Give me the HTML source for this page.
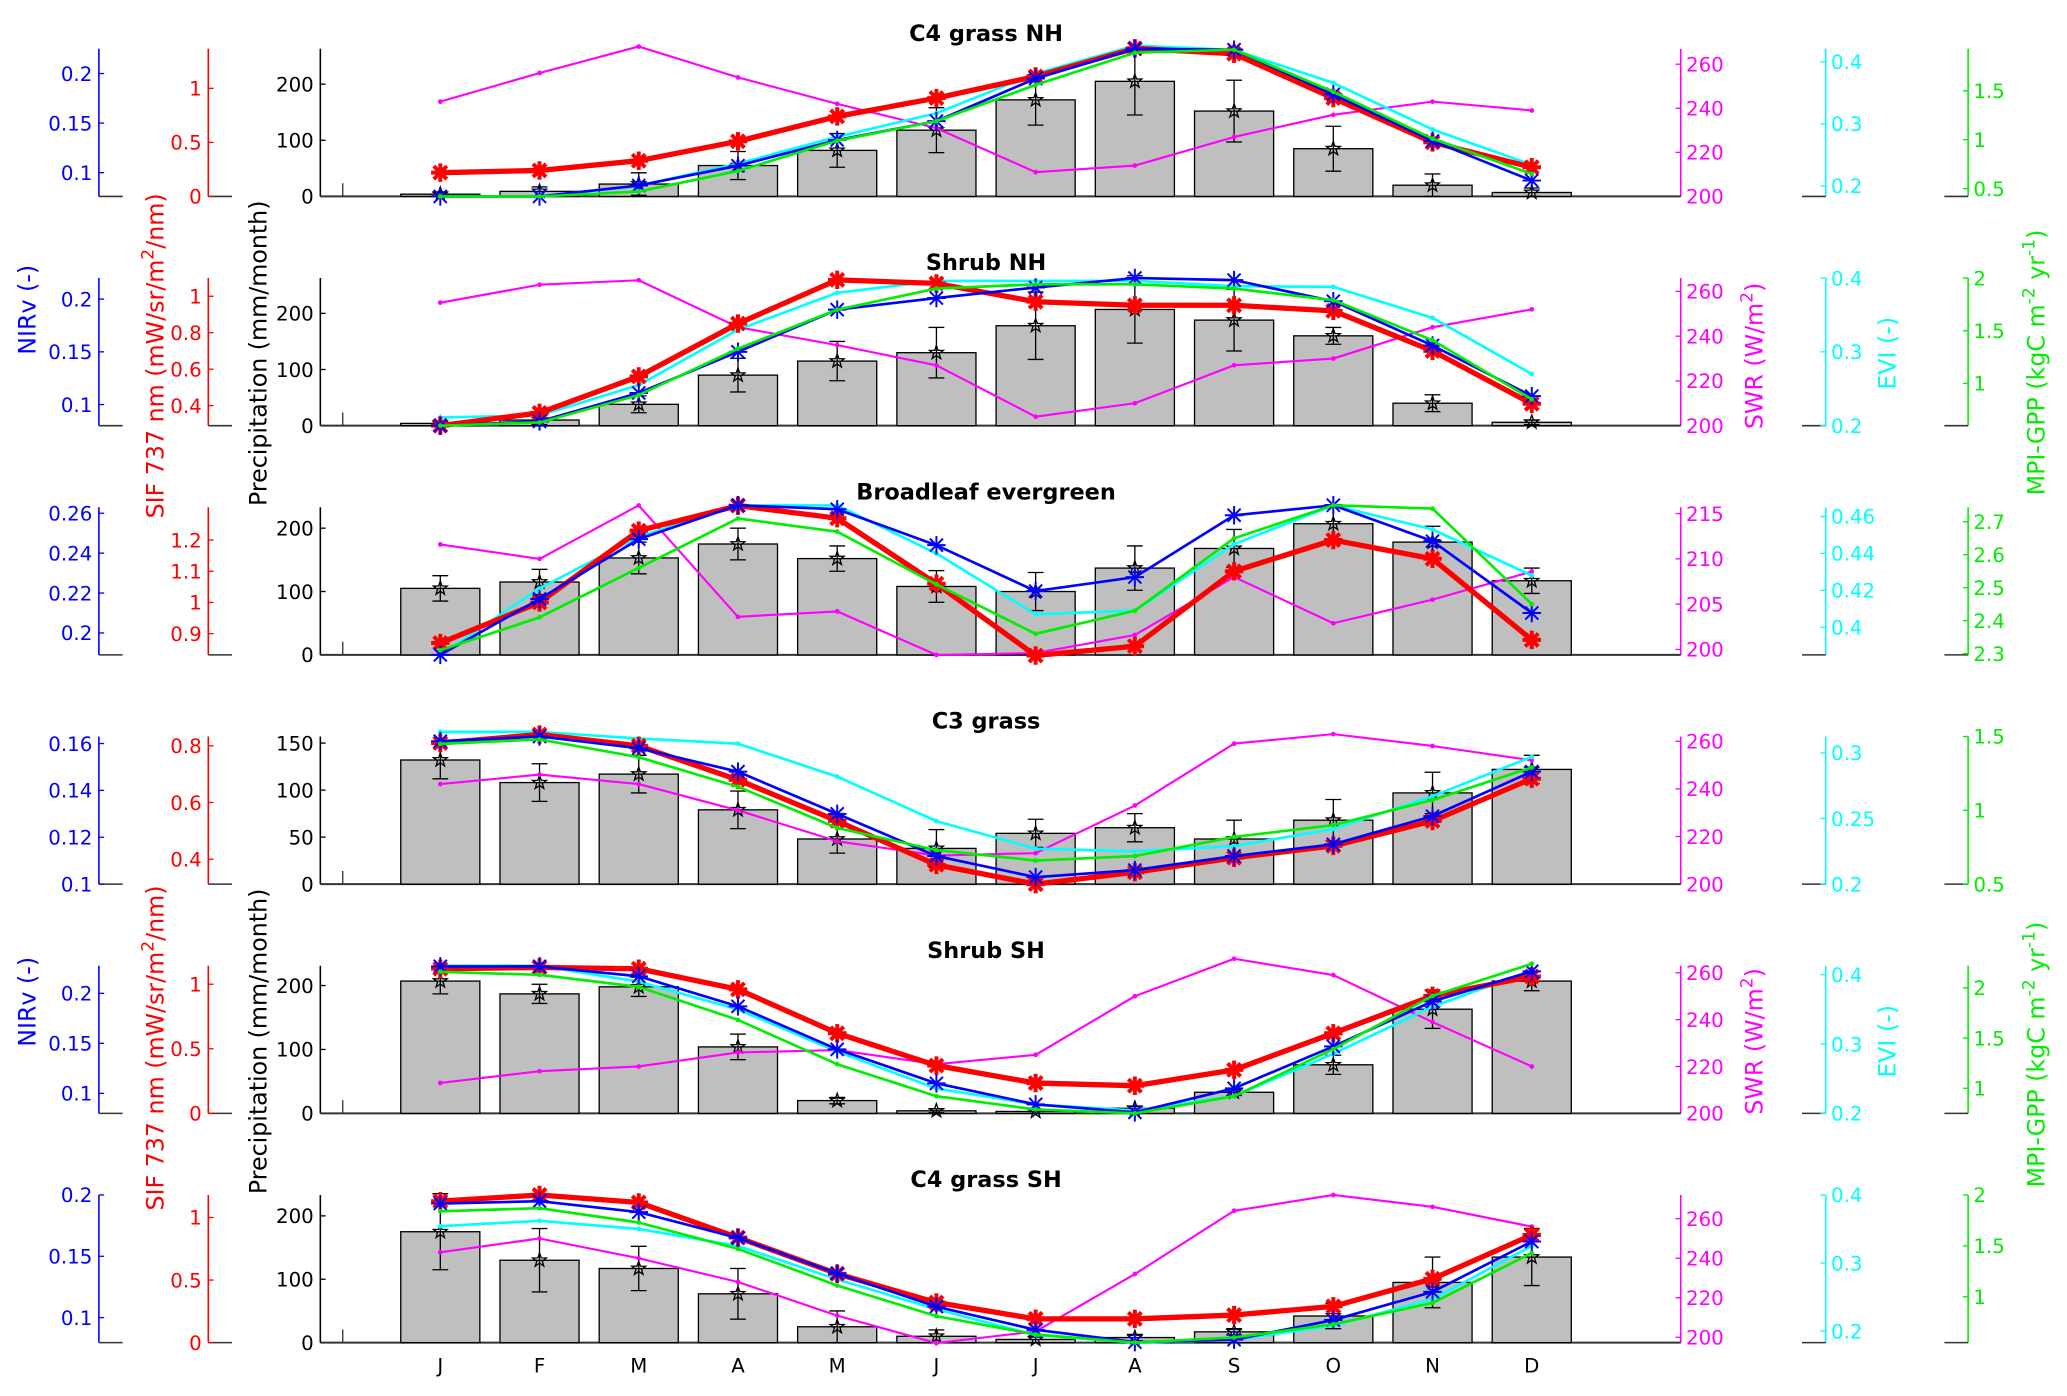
<!DOCTYPE html>
<html><head><meta charset="utf-8"><style>
html,body{margin:0;padding:0;background:#fff}
svg{display:block;font-family:"DejaVu Sans","Liberation Sans",sans-serif}
</style></head><body>
<svg id="chart" xmlns="http://www.w3.org/2000/svg" width="2067" height="1396" viewBox="0 0 1568 1059">
<rect x="0" y="0" width="1568" height="1059" fill="#fff"/>
</svg>
<script>
const months = ["J","F","M","A","M","J","J","A","S","O","N","D"];
const titles = ["C4 grass NH","Shrub NH","Broadleaf evergreen","C3 grass","Shrub SH","C4 grass SH"];
const precip = [
 [4,9,22,55,82,118,172,205,152,85,20,7],
 [4,10,38,90,115,130,178,207,188,160,40,6],
 [105,115,153,175,152,108,100,137,168,207,178,117],
 [132,108,117,79,48,38,54,60,48,68,97,122],
 [207,187,198,104,20,4,3,8,33,76,163,207],
 [175,130,117,77,25,10,5,8,17,42,95,135]];
const precipErr = [
 [3,8,20,25,30,40,45,60,55,40,20,8],
 [3,8,15,30,35,45,60,60,55,15,15,4],
 [20,20,25,25,20,25,30,35,30,30,25,20],
 [20,20,20,20,15,20,15,15,20,22,22,15],
 [20,15,15,20,5,3,3,3,5,15,30,15],
 [60,50,35,40,25,10,5,5,5,20,40,45]];
const sif = [
 [0.22,0.24,0.33,0.51,0.74,0.91,1.11,1.37,1.32,0.91,0.50,0.27],
 [0.29,0.36,0.56,0.85,1.09,1.07,0.97,0.95,0.95,0.92,0.70,0.41],
 [0.87,1.0,1.23,1.31,1.27,1.06,0.83,0.86,1.10,1.20,1.14,0.88],
 [0.81,0.84,0.80,0.68,0.535,0.38,0.312,0.354,0.405,0.447,0.535,0.684],
 [1.12,1.13,1.12,0.96,0.62,0.37,0.235,0.214,0.337,0.62,0.91,1.06],
 [1.13,1.18,1.12,0.84,0.55,0.32,0.19,0.19,0.22,0.29,0.51,0.86]];
const nirv = [
 [0.076,0.076,0.087,0.107,0.133,0.152,0.195,0.225,0.224,0.179,0.132,0.092],
 [0.08,0.084,0.111,0.15,0.19,0.201,0.211,0.22,0.218,0.198,0.156,0.108],
 [0.189,0.217,0.247,0.264,0.262,0.244,0.221,0.228,0.259,0.264,0.246,0.21],
 [0.161,0.163,0.158,0.148,0.13,0.112,0.103,0.106,0.112,0.117,0.129,0.148],
 [0.227,0.227,0.217,0.187,0.144,0.11,0.089,0.081,0.105,0.147,0.192,0.222],
 [0.193,0.195,0.186,0.165,0.136,0.109,0.09,0.08,0.082,0.098,0.121,0.162]];
const evi = [
 [0.183,0.183,0.2,0.236,0.279,0.317,0.381,0.426,0.419,0.366,0.291,0.234],
 [0.211,0.214,0.255,0.33,0.38,0.396,0.396,0.396,0.389,0.388,0.346,0.27],
 [0.385,0.421,0.449,0.466,0.466,0.44,0.407,0.409,0.445,0.466,0.453,0.428],
 [0.316,0.316,0.311,0.307,0.282,0.248,0.227,0.225,0.229,0.242,0.267,0.297],
 [0.413,0.413,0.39,0.35,0.289,0.236,0.213,0.204,0.225,0.286,0.354,0.406],
 [0.354,0.362,0.35,0.325,0.276,0.232,0.194,0.183,0.187,0.208,0.247,0.325]];
const gpp = [
 [0.42,0.42,0.47,0.68,0.99,1.19,1.56,1.89,1.92,1.49,1.01,0.65],
 [0.6,0.63,0.89,1.33,1.7,1.9,1.94,1.94,1.9,1.79,1.41,0.85],
 [2.31,2.41,2.56,2.71,2.67,2.51,2.36,2.43,2.65,2.75,2.74,2.45],
 [1.45,1.48,1.36,1.16,0.88,0.73,0.66,0.69,0.82,0.9,1.07,1.29],
 [2.16,2.13,2.01,1.68,1.24,0.92,0.79,0.75,0.92,1.39,1.92,2.24],
 [1.84,1.87,1.73,1.47,1.11,0.81,0.63,0.55,0.6,0.73,0.94,1.43]];
const swr = [
 [243,256,268,254,242,231,211,214,227,237,243,239],
 [255,263,265,244,236,227,204,210,227,230,244,252],
 [211.6,210,215.9,203.6,204.2,199.4,199.6,201.6,208,202.9,205.5,208.6],
 [242,246,242,231,218,212,213,233,259,263,258,252],
 [213,218,220,226,227,221,225,250,266,259,239,220],
 [243,250,240,228,211,197,203,232,264,272,266,256]];
const precipTicks = [[0,100,200],[0,100,200],[0,100,200],[0,50,100,150],[0,100,200],[0,100,200]];
const nirvTicks = [[0.1,0.15,0.2],[0.1,0.15,0.2],[0.2,0.22,0.24,0.26],[0.1,0.12,0.14,0.16],[0.1,0.15,0.2],[0.1,0.15,0.2]];
const sifTicks = [[0,0.5,1],[0.4,0.6,0.8,1],[0.9,1,1.1,1.2],[0.4,0.6,0.8],[0,0.5,1],[0,0.5,1]];
const swrTicks = [[200,220,240,260],[200,220,240,260],[200,205,210,215],[200,220,240,260],[200,220,240,260],[200,220,240,260]];
const eviTicks = [[0.2,0.3,0.4],[0.2,0.3,0.4],[0.4,0.42,0.44,0.46],[0.2,0.25,0.3],[0.2,0.3,0.4],[0.2,0.3,0.4]];
const gppTicks = [[0.5,1,1.5],[1,1.5,2],[2.3,2.4,2.5,2.6,2.7],[0.5,1,1.5],[1,1.5,2],[1,1.5,2]];

const LIM = {
 precip:[[0,263],[0,263],[0,233],[0,157],[0,231],[0,233]],
 nirv:[[0.076,0.225],[0.08,0.22],[0.189,0.263],[0.1,0.163],[0.08,0.2276],[0.0796,0.2]],
 sif:[[0,1.366],[0.29,1.10],[0.832,1.305],[0.312,0.833],[0,1.143],[0,1.18]],
 swr:[[200,267],[200,266],[199.4,215.7],[200,262],[200,263],[197.3,272]],
 evi:[[0.183,0.421],[0.2,0.4],[0.385,0.465],[0.2,0.3125],[0.2,0.413],[0.183,0.4]],
 gpp:[[0.42,1.93],[0.6,2.0],[2.296,2.744],[0.5,1.5],[0.75,2.22],[0.55,2.0]]
};
const NS="http://www.w3.org/2000/svg";
const svg=document.getElementById('chart');
function mk(tag,attrs,parent,text){const e=document.createElementNS(NS,tag);for(const k in attrs)e.setAttribute(k,attrs[k]);if(text!==undefined)e.textContent=text;(parent||svg).appendChild(e);return e;}
const H=112, X0=334, DX=75.27;
const xOf=i=>X0+i*DX;
function fmt(v){return String(+v.toFixed(3));}
const BLUE="#0000ff",RED="#ff0000",MAG="#ff00ff",CYAN="#00ffff",GREEN="#00ee00";

function vAxis(g,x,base,lim,ticks,color,side,stub){
  const sc=v=>base-(v-lim[0])/(lim[1]-lim[0])*H;
  mk('line',{x1:x,y1:base-H,x2:x,y2:base,stroke:color,'stroke-width':1.2},g);
  if(stub){mk('line',{x1:side<0?x:x-18,y1:base,x2:side<0?x+18:x,y2:base,stroke:'#333','stroke-width':1.2},g);}
  ticks.forEach(t=>{
    const y=sc(t);
    mk('line',{x1:x,y1:y,x2:x+(side<0?4:-4),y2:y,stroke:color,'stroke-width':1},g);
    const tx=mk('text',{x:side<0?x-5:x+4,y:y+5.5,fill:color,'font-size':15,'text-anchor':side<0?'end':'start'},g,fmt(t));
    
    
  });
  return sc;
}
function asterisk(g,x,y,r,color,w,n){
  for(let k=0;k<n;k++){const a=Math.PI*k/n;mk('line',{x1:x-r*Math.cos(a),y1:y-r*Math.sin(a),x2:x+r*Math.cos(a),y2:y+r*Math.sin(a),stroke:color,'stroke-width':w},g);}
}
function pent(g,x,y,r){
  let d="";for(let k=0;k<10;k++){const rr=k%2?r*0.4:r;const a=-Math.PI/2+k*Math.PI/5;d+=(k?"L":"M")+(x+rr*Math.cos(a)).toFixed(1)+","+(y+rr*Math.sin(a)).toFixed(1);}
  const p=mk('path',{d:d+"Z",fill:'none',stroke:'#000','stroke-width':1},g);
  
  
}
function line(g,vals,sc,color,w,name){
  const pts=vals.map((v,i)=>xOf(i).toFixed(1)+","+sc(v).toFixed(1)).join(" ");
  const p=mk('polyline',{points:pts,fill:'none',stroke:color,'stroke-width':w,'stroke-linejoin':'round'},g);
  
  
  return p;
}
for(let p=0;p<6;p++){
  const base=149+p*173.9;
  const g=mk('g',{});
  
  
  const t=mk('text',{x:748,y:base-118,'font-size':17,'font-weight':'bold','text-anchor':'middle',fill:'#000'},g,titles[p]);
  
  
  const sN=vAxis(g,75,base,LIM.nirv[p],nirvTicks[p],BLUE,-1,true);
  const sS=vAxis(g,158,base,LIM.sif[p],sifTicks[p],RED,-1,true);
  const sW=vAxis(g,1275,base,LIM.swr[p],swrTicks[p],MAG,1,false);
  const sE=vAxis(g,1385,base,LIM.evi[p],eviTicks[p],CYAN,1,true);
  const sG=vAxis(g,1493,base,LIM.gpp[p],gppTicks[p],GREEN,1,true);
  const sP=vAxis(g,243,base,LIM.precip[p],precipTicks[p],'#000',-1,false);
  mk('line',{x1:243,y1:base,x2:1275,y2:base,stroke:'#333','stroke-width':1.5},g);
  mk('line',{x1:260,y1:base-10,x2:260,y2:base,stroke:'#333','stroke-width':1},g);
  precip[p].forEach((v,i)=>{
    const y=sP(v);
    const b=mk('rect',{x:xOf(i)-30,y:y,width:60,height:base-y,fill:'#bfbfbf',stroke:'#000','stroke-width':1},g);
    
    
  });
  precip[p].forEach((v,i)=>{
    const e=precipErr[p][i],x=xOf(i),y1=sP(v+e),y2=sP(Math.max(0,v-e));
    mk('line',{x1:x,y1:y1,x2:x,y2:y2,stroke:'#000','stroke-width':1},g);
    mk('line',{x1:x-6,y1:y1,x2:x+6,y2:y1,stroke:'#000','stroke-width':1},g);
    mk('line',{x1:x-6,y1:y2,x2:x+6,y2:y2,stroke:'#000','stroke-width':1},g);
    pent(g,x,sP(v),5.5);
  });
  line(g,swr[p],sW,MAG,1.6,'swr-line');
  swr[p].forEach((v,i)=>mk('circle',{cx:xOf(i),cy:sW(v),r:1.8,fill:MAG},g));
  line(g,evi[p],sE,CYAN,2,'evi-line');
  evi[p].forEach((v,i)=>mk('circle',{cx:xOf(i),cy:sE(v),r:1.8,fill:CYAN},g));
  line(g,sif[p],sS,RED,4,'sif-line');
  sif[p].forEach((v,i)=>asterisk(g,xOf(i),sS(v),7,RED,3,4));
  line(g,nirv[p],sN,BLUE,2,'nirv-line');
  nirv[p].forEach((v,i)=>asterisk(g,xOf(i),sN(v),7,BLUE,1.5,4));
  line(g,gpp[p],sG,GREEN,2,'gpp-line');
  gpp[p].forEach((v,i)=>mk('circle',{cx:xOf(i),cy:sG(v),r:1.8,fill:GREEN},g));
}
months.forEach((m,i)=>{
  const t=mk('text',{x:xOf(i),y:1041,'font-size':15,'text-anchor':'middle',fill:'#000'},svg,m);
  
  
});
function rot(x,y,color,parts,name){
  const t=mk('text',{x:0,y:0,transform:`translate(${x},${y}) rotate(-90)`,'font-size':18,'text-anchor':'middle',fill:color});
  
  
  parts.forEach(pt=>{
    const s=mk('tspan',{},t,pt[0]);
    if(pt[1]){s.setAttribute('baseline-shift',pt[1]);s.setAttribute('font-size',13);}
  });
}
[[235,270,268,270,268,275],[760,795,790,790,790,800]].forEach(c=>{
  rot(27,c[0],BLUE,[["NIRv (-)"]],'nirv-axis-title');
  rot(124,c[1],RED,[["SIF 737 nm (mW/sr/m"],["2","super"],["/nm)"]],'sif-axis-title');
  rot(202,c[2],'#000',[["Precipitation (mm/month)"]],'precip-axis-title');
  rot(1337,c[3],MAG,[["SWR (W/m"],["2","super"],[")"]],'swr-axis-title');
  rot(1438,c[4],CYAN,[["EVI (-)"]],'evi-axis-title');
  rot(1551,c[5],GREEN,[["MPI-GPP (kgC m"],["-2","super"],[" yr"],["-1","super"],[")"]],'gpp-axis-title');
});
</script>
</body></html>
